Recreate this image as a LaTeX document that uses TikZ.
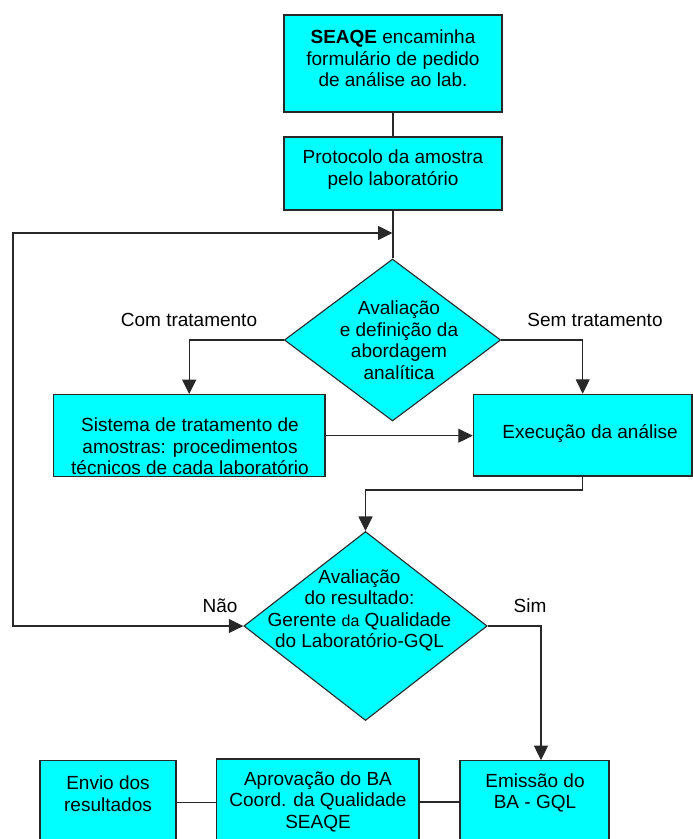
\documentclass[tikz,border=0pt]{standalone}
\usepackage{fontspec}
\setmainfont{Liberation Sans}
\usetikzlibrary{shapes.geometric,arrows.meta,calc}
\definecolor{boxfill}{RGB}{0,255,255}
\definecolor{edge}{RGB}{40,40,40}
\begin{document}
\begin{tikzpicture}[x=1pt,y=-1pt,
  box/.style={draw=edge, line width=1.2pt, fill=boxfill, inner sep=0pt},
  decision/.style={diamond, draw=edge, line width=1.1pt, fill=boxfill, inner sep=0pt},
  txt/.style={align=center, inner sep=0pt, font=\fontsize{19}{21.5}\selectfont},
  lbl/.style={inner sep=0pt, font=\fontsize{19}{21.5}\selectfont},
  link/.style={draw=edge, line width=1.1pt},
  flow/.style={link, -{Triangle[length=14.5pt,width=14pt]}},
  twoway/.style={link, {Triangle[length=14.5pt,width=14pt]}-{Triangle[length=14.5pt,width=14pt]}}]
\clip (0,0) rectangle (693,839);
\fill[white] (0,0) rectangle (693,839);

% process boxes
\node[box, minimum width=218pt, minimum height=97pt] (b-seaqe) at (393,63.5) {};
\node[box, minimum width=218pt, minimum height=73pt] (b-proto) at (393,173.5) {};
\node[box, minimum width=271.7pt, minimum height=82pt] (b-trat) at (189.2,435.7) {};
\node[box, minimum width=218.7pt, minimum height=81.7pt] (b-exec) at (582.7,435.2) {};
\node[box, minimum width=136pt, minimum height=84.3pt] (b-envio) at (108,802.9) {};
\node[box, minimum width=202.5pt, minimum height=86pt] (b-aprov) at (317.8,802) {};
\node[box, minimum width=149pt, minimum height=84.3pt] (b-emis) at (534.5,802.9) {};

% decisions
\node[decision, minimum width=216.4pt, minimum height=162pt] (d-abord) at (392.5,340) {};
\node[decision, minimum width=243.3pt, minimum height=189pt] (d-result) at (365.5,626) {};

% texts
\node[txt] (t-seaqe) at (393,58.5) {\textbf{SEAQE} encaminha\\formulário de pedido\\de análise ao lab.};
\node[txt] (t-proto) at (393,169.5) {Protocolo da amostra\\pelo laboratório};
\node[txt] (t-abord) at (399,340) {Avaliação\\e definição da\\abordagem\\analítica};
\node[txt] (t-trat) at (190,446.5) {Sistema de tratamento de\\amostras: procedimentos\\técnicos de cada laboratório};
\node[txt] (t-exec) at (590,434) {Execução da análise};
\node[txt] (t-result) at (359.5,610.5) {Avaliação\\do resultado:\\Gerente {\fontsize{16}{21.5}\selectfont da} Qualidade\\do Laboratório-GQL};
\node[txt] (t-envio) at (108,793.5) {Envio dos\\resultados};
\node[txt] (t-aprov) at (318,801.7) {Aprovação do BA\\Coord. da Qualidade\\SEAQE};
\node[txt] (t-emis) at (535,793) {Emissão do\\BA - GQL};

% branch labels
\node[lbl] (l-com) at (189,320) {Com tratamento};
\node[lbl] (l-sem) at (595,320) {Sem tratamento};
\node[lbl] (l-nao) at (220,606) {Não};
\node[lbl] (l-sim) at (530,606) {Sim};

% routing points
\coordinate (c-join) at (392.5,233);
\coordinate (c-loop) at (13,233);
\coordinate (c-bend) at (582.7,490);
\coordinate (c-sim) at (541,626);

% connectors
\draw[link] (b-seaqe.south) -- (b-proto.north);
\draw[link] (b-proto.south) -- (b-proto.south |- d-abord.north);
\draw[twoway] (d-result.west) -| (c-loop) -- (c-join);
\draw[flow] (d-abord.west) -| (b-trat.north);
\draw[flow] (d-abord.east) -| (b-exec.north);
\draw[flow] (b-trat.east) -- (b-trat.east -| b-exec.west);
\draw[flow] (b-exec.south) -- (c-bend) -| (d-result.north);
\draw[flow] (d-result.east) -- (c-sim) -- (c-sim |- b-emis.north);
\draw[link] (b-aprov.east) -- (b-aprov.east -| b-emis.west);
\draw[link] (b-envio.east) -- (b-envio.east -| b-aprov.west);
\end{tikzpicture}
\end{document}
